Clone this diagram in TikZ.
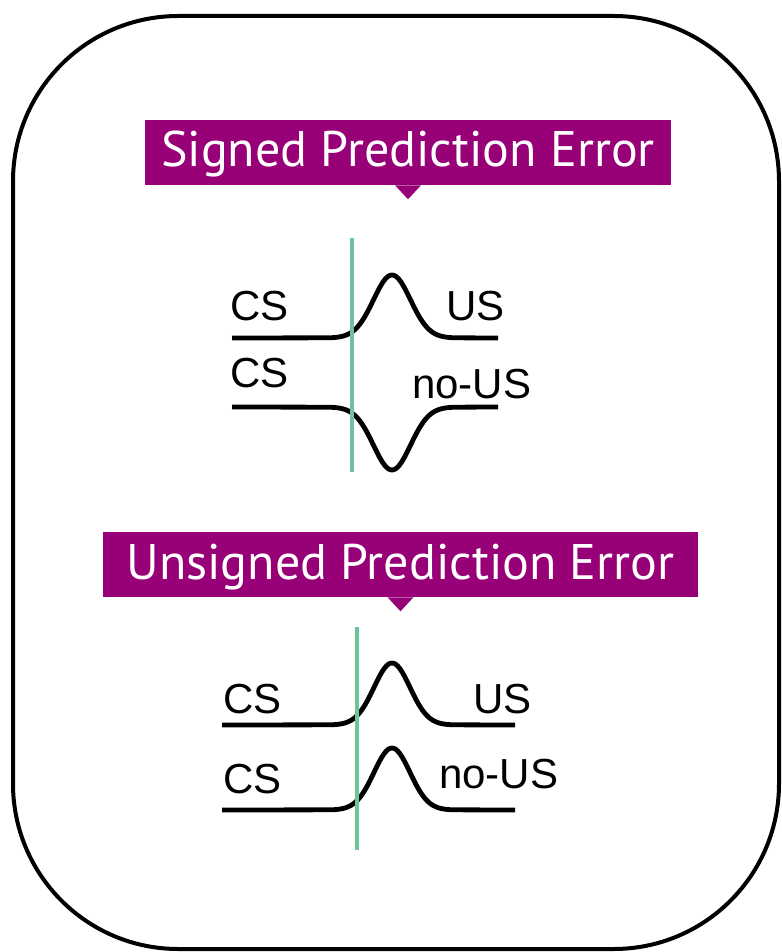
\documentclass[tikz,border=0pt]{standalone}
\usepackage{fontspec}
\setmainfont{Liberation Sans}
\newfontfamily\bannerfont{PT Sans}
\definecolor{plum}{RGB}{152,0,120}
\definecolor{mint}{RGB}{108,196,154}
\begin{document}
\begin{tikzpicture}[x=0.75pt,y=-0.75pt,
  frame/.style={draw=black,line width=3pt,rounded corners=124pt},
  bannerbox/.style={fill=plum,draw=none,inner sep=0pt,minimum height=48.75pt},
  bannertext/.style={text=white,inner sep=0pt,anchor=base,
    font=\bannerfont\fontsize{37.5}{37.5}\selectfont},
  lbl/.style={inner sep=0pt,anchor=base west,font=\fontsize{31.5}{31.5}\selectfont},
  wave/.style={draw=black,line width=3.6pt,line join=round},
  onset/.style={draw=mint,line width=3pt}]
\useasboundingbox (0,0) rectangle (781,952);

% outer frame
\draw[frame] (13,16) rectangle (779,949);

% ---------- signed prediction error ----------
\node[bannerbox,minimum width=394.5pt] (sbox) at (408,152.5) {};
\fill[plum] (sbox.south) ++(-13,0) -- ++(13,14) -- ++(13,-14) -- cycle;
\node[bannertext] (stitle) at (408,167) {Signed Prediction Error};

% CS followed by US: positive bump
\draw[wave] (232,338) -- plot[domain=-3.4:3.4,samples=69,smooth]
  ({392+18.5*(\x)},{338-63*exp(-0.5*(\x)^2)}) -- (498,338);
% CS followed by no-US: negative dip
\draw[wave] (232,407) -- plot[domain=-3.4:3.4,samples=69,smooth]
  ({392+18.5*(\x)},{407+63*exp(-0.5*(\x)^2)}) -- (498,407);
\draw[onset] (352,238) coordinate (sa) -- (352,472) coordinate (sb);

\node[lbl] (scs1) at (230,320) {CS};
\node[lbl] (sus) at (446,320) {US};
\node[lbl] (scs2) at (230,387) {CS};
\node[lbl] (snous) at (412,398) {no-US};

% ---------- unsigned prediction error ----------
\node[bannerbox,minimum width=446.25pt] (ubox) at (400.5,564.5) {};
\fill[plum] (ubox.south) ++(-13,0) -- ++(13,14) -- ++(13,-14) -- cycle;
\node[bannertext] (utitle) at (400.5,579) {Unsigned Prediction Error};

% both outcomes give a positive bump
\draw[wave] (222,725) -- plot[domain=-3.4:3.4,samples=69,smooth]
  ({392+18*(\x)},{725-62*exp(-0.5*(\x)^2)}) -- (515,725);
\draw[wave] (222,810) -- plot[domain=-3.4:3.4,samples=69,smooth]
  ({392+18*(\x)},{810-62*exp(-0.5*(\x)^2)}) -- (515,810);
\draw[onset] (357,627) coordinate (ua) -- (357,850) coordinate (ub);

\node[lbl] (ucs1) at (223,713) {CS};
\node[lbl] (uus) at (473,713) {US};
\node[lbl] (ucs2) at (223,793) {CS};
\node[lbl] (unous) at (439,788) {no-US};
\end{tikzpicture}
\end{document}
